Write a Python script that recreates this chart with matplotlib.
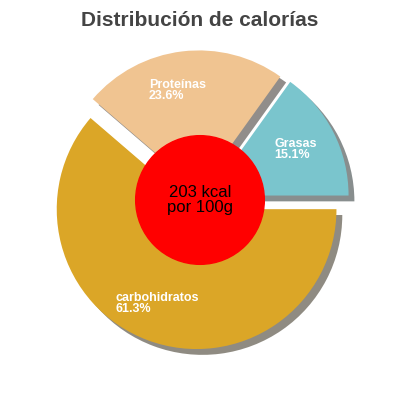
import matplotlib
matplotlib.use("Agg")
import matplotlib.pyplot as plt
import numpy as np
from matplotlib.patches import Circle

plt.rcParams['font.family'] = ['Liberation Sans', 'DejaVu Sans']

labels = ["Grasas", "Proteínas", "carbohidratos"]
values = [15.1, 23.6, 61.3]
colors = ["#7ac5cd", "#f0c491", "#dba627"]
center_text = "203 kcal\npor 100g"
title = "Distribución de calorías"

fig = plt.figure(figsize=(4, 4), dpi=100)
ax = fig.add_axes([0, 0, 1, 1])
wedges, _ = ax.pie(values, colors=colors, startangle=0, counterclock=True,
                   explode=[0.07, 0.07, 0.07],
                   shadow={'ox': 0.03, 'oy': -0.03, 'shade': 0.85},
                   wedgeprops={'linewidth': 0})
ax.set_xlim(-1.43, 1.43)
ax.set_ylim(-1.43, 1.43)
ax.set_aspect('equal')
ax.axis('off')

shift = {"Grasas": -0.17, "Proteínas": -0.27, "carbohidratos": -0.33}
for w, lab, v in zip(wedges, labels, values):
    mid = np.deg2rad((w.theta1 + w.theta2) / 2)
    cx, cy = w.center
    r = 0.72
    x = cx + r * np.cos(mid) + shift[lab]
    y = cy + r * np.sin(mid)
    ax.text(x, y, f"{lab}\n{v}%", color="white", fontsize=9, ha="left", va="center",
            linespacing=0.95, fontweight="bold")

ax.add_patch(Circle((0, 0), 0.46, color="#ff0000", zorder=5))
ax.text(0, 0, center_text, ha="center", va="center", fontsize=12, zorder=6, linespacing=1.0)

fig.text(0.5, 0.95, title, ha="center", va="center", fontsize=15, fontweight="bold", color="#444444")
fig.savefig("out.png", dpi=100)
